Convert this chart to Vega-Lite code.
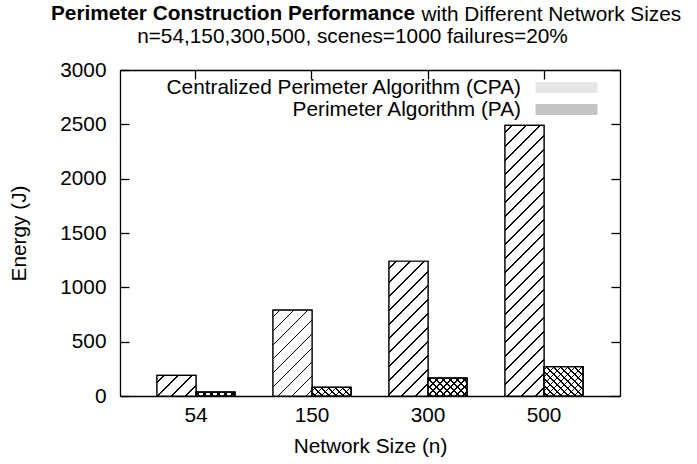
{
  "$schema": "https://vega.github.io/schema/vega-lite/v6.json",
  "width": 500,
  "height": 326,
  "autosize": "none",
  "padding": {"left": 120, "top": 70, "right": 77, "bottom": 68},
  "background": "white",
  "config": {
    "font": "Liberation Sans",
    "view": {"stroke": null},
    "axis": {
      "labelFont": "Liberation Sans",
      "titleFont": "Liberation Sans",
      "labelFontSize": 20.8,
      "titleFontSize": 20.8,
      "titleFontWeight": "normal",
      "labelColor": "black",
      "titleColor": "black",
      "domainColor": "black",
      "domainWidth": 1.3,
      "tickColor": "black",
      "tickWidth": 1.3,
      "grid": false,
      "titleLimit": 0
    },
    "legend": {
      "labelFont": "Liberation Sans",
      "labelFontSize": 20.8,
      "labelColor": "black",
      "labelLimit": 0
    }
  },
  "title": {
    "text": "Perimeter Construction Performance",
    "font": "Liberation Sans",
    "fontSize": 20.8,
    "fontWeight": "bold",
    "color": "black",
    "anchor": "start",
    "frame": "group",
    "baseline": "alphabetic",
    "dx": -69,
    "dy": 38,
    "offset": 0
  },
  "resolve": {"axis": {"x": "independent", "y": "independent"}},
  "data": {
    "values": [
      {"n": "54", "algo": "Centralized Perimeter Algorithm (CPA)", "energy": 190},
      {"n": "150", "algo": "Centralized Perimeter Algorithm (CPA)", "energy": 790},
      {"n": "300", "algo": "Centralized Perimeter Algorithm (CPA)", "energy": 1240},
      {"n": "500", "algo": "Centralized Perimeter Algorithm (CPA)", "energy": 2490},
      {"n": "54", "algo": "Perimeter Algorithm (PA)", "energy": 35},
      {"n": "150", "algo": "Perimeter Algorithm (PA)", "energy": 80},
      {"n": "300", "algo": "Perimeter Algorithm (PA)", "energy": 165},
      {"n": "500", "algo": "Perimeter Algorithm (PA)", "energy": 270}
    ]
  },
  "layer": [
    {
      "mark": {"type": "bar", "stroke": "black", "strokeWidth": 1.2},
      "encoding": {
        "x": {
          "field": "n",
          "type": "nominal",
          "sort": ["54", "150", "300", "500"],
          "scale": {"paddingInner": 0.328, "paddingOuter": 0.319},
          "axis": {
            "title": "Network Size (n)",
            "labelAngle": 0,
            "ticks": false,
            "labelPadding": 9,
            "titlePadding": 12
          }
        },
        "xOffset": {
          "field": "algo",
          "type": "nominal",
          "sort": ["Centralized Perimeter Algorithm (CPA)", "Perimeter Algorithm (PA)"],
          "scale": {"paddingInner": 0, "paddingOuter": 0}
        },
        "y": {
          "field": "energy",
          "type": "quantitative",
          "scale": {"domain": [0, 3000], "nice": false},
          "axis": {
            "title": "Energy (J)",
            "format": "d",
            "values": [0, 500, 1000, 1500, 2000, 2500, 3000],
            "ticks": true,
            "tickSize": -9,
            "labelPadding": 23,
            "titlePadding": 30
          }
        },
        "fill": {
          "field": "algo",
          "type": "nominal",
          "sort": ["Centralized Perimeter Algorithm (CPA)", "Perimeter Algorithm (PA)"],
          "scale": {"range": ["#e6e6e6", "#c4c4c4"]},
          "legend": {
            "title": null,
            "orient": "none",
            "legendX": 436,
            "legendY": 7,
            "padding": 0,
            "rowPadding": 0,
            "symbolType": "M-3.1,-0.55H3.1V0.55H-3.1Z",
            "symbolSize": 400,
            "symbolStrokeColor": "black",
            "symbolStrokeWidth": 1,
            "symbolOpacity": 1,
            "labelAlign": "right",
            "labelOffset": -56,
            "encode": {
              "symbols": {
                "update": {
                  "fill": [
                    {"test": "datum.value === 'Centralized Perimeter Algorithm (CPA)'", "value": {"gradient": "linear", "x1": 0, "y1": 0, "x2": 1.1415, "y2": 0.2025, "stops": [
                      {"offset": 0, "color": "white"},
                      {"offset": 0.0849, "color": "white"}, {"offset": 0.0849, "color": "black"}, {"offset": 0.1068, "color": "black"}, {"offset": 0.1068, "color": "white"},
                      {"offset": 0.2767, "color": "white"}, {"offset": 0.2767, "color": "black"}, {"offset": 0.2986, "color": "black"}, {"offset": 0.2986, "color": "white"},
                      {"offset": 0.4685, "color": "white"}, {"offset": 0.4685, "color": "black"}, {"offset": 0.4904, "color": "black"}, {"offset": 0.4904, "color": "white"},
                      {"offset": 0.6603, "color": "white"}, {"offset": 0.6603, "color": "black"}, {"offset": 0.6822, "color": "black"}, {"offset": 0.6822, "color": "white"},
                      {"offset": 0.8521, "color": "white"}, {"offset": 0.8521, "color": "black"}, {"offset": 0.8740, "color": "black"}, {"offset": 0.8740, "color": "white"},
                      {"offset": 1, "color": "white"}]}},
                    {"value": "#c4c4c4"}
                  ]
                }
              }
            }
          }
        }
      }
    },
    {
      "transform": [{"filter": "datum.n === '54' && datum.algo === 'Centralized Perimeter Algorithm (CPA)'"}],
      "mark": {"type": "bar", "stroke": "black", "strokeWidth": 1.2, "fill": {"gradient": "linear", "x1": 0, "y1": 0, "x2": 1.1946, "y2": 0.6325, "stops": [
        {"offset": 0, "color": "white"},
        {"offset": 0.1039, "color": "white"}, {"offset": 0.1039, "color": "black"}, {"offset": 0.1308, "color": "black"}, {"offset": 0.1308, "color": "white"},
        {"offset": 0.3386, "color": "white"}, {"offset": 0.3386, "color": "black"}, {"offset": 0.3655, "color": "black"}, {"offset": 0.3655, "color": "white"},
        {"offset": 0.5733, "color": "white"}, {"offset": 0.5733, "color": "black"}, {"offset": 0.6002, "color": "black"}, {"offset": 0.6002, "color": "white"},
        {"offset": 0.8080, "color": "white"}, {"offset": 0.8080, "color": "black"}, {"offset": 0.8349, "color": "black"}, {"offset": 0.8349, "color": "white"},
        {"offset": 1, "color": "white"}]}},
      "encoding": {
        "x": {"field": "n", "type": "nominal", "sort": ["54", "150", "300", "500"], "axis": null},
        "xOffset": {"field": "algo", "type": "nominal", "sort": ["Centralized Perimeter Algorithm (CPA)", "Perimeter Algorithm (PA)"]},
        "y": {"field": "energy", "type": "quantitative", "axis": null}
      }
    },
    {
      "transform": [{"filter": "datum.n === '150' && datum.algo === 'Centralized Perimeter Algorithm (CPA)'"}],
      "mark": {"type": "bar", "stroke": "black", "strokeWidth": 1.2, "fill": {"gradient": "linear", "x1": 0, "y1": 0, "x2": 0.5476, "y2": 1.2055, "stops": [
        {"offset": 0, "color": "white"},
        {"offset": 0.0497, "color": "white"}, {"offset": 0.0497, "color": "black"}, {"offset": 0.0625, "color": "black"}, {"offset": 0.0625, "color": "white"},
        {"offset": 0.1618, "color": "white"}, {"offset": 0.1618, "color": "black"}, {"offset": 0.1746, "color": "black"}, {"offset": 0.1746, "color": "white"},
        {"offset": 0.2739, "color": "white"}, {"offset": 0.2739, "color": "black"}, {"offset": 0.2867, "color": "black"}, {"offset": 0.2867, "color": "white"},
        {"offset": 0.3861, "color": "white"}, {"offset": 0.3861, "color": "black"}, {"offset": 0.3989, "color": "black"}, {"offset": 0.3989, "color": "white"},
        {"offset": 0.4982, "color": "white"}, {"offset": 0.4982, "color": "black"}, {"offset": 0.5110, "color": "black"}, {"offset": 0.5110, "color": "white"},
        {"offset": 0.6103, "color": "white"}, {"offset": 0.6103, "color": "black"}, {"offset": 0.6231, "color": "black"}, {"offset": 0.6231, "color": "white"},
        {"offset": 0.7225, "color": "white"}, {"offset": 0.7225, "color": "black"}, {"offset": 0.7353, "color": "black"}, {"offset": 0.7353, "color": "white"},
        {"offset": 0.8346, "color": "white"}, {"offset": 0.8346, "color": "black"}, {"offset": 0.8474, "color": "black"}, {"offset": 0.8474, "color": "white"},
        {"offset": 0.9467, "color": "white"}, {"offset": 0.9467, "color": "black"}, {"offset": 0.9596, "color": "black"}, {"offset": 0.9596, "color": "white"},
        {"offset": 1, "color": "white"}]}},
      "encoding": {
        "x": {"field": "n", "type": "nominal", "sort": ["54", "150", "300", "500"], "axis": null},
        "xOffset": {"field": "algo", "type": "nominal", "sort": ["Centralized Perimeter Algorithm (CPA)", "Perimeter Algorithm (PA)"]},
        "y": {"field": "energy", "type": "quantitative", "axis": null}
      }
    },
    {
      "transform": [{"filter": "datum.n === '300' && datum.algo === 'Centralized Perimeter Algorithm (CPA)'"}],
      "mark": {"type": "bar", "stroke": "black", "strokeWidth": 1.2, "fill": {"gradient": "linear", "x1": 0, "y1": 0, "x2": 0.3443, "y2": 1.1898, "stops": [
        {"offset": 0, "color": "white"},
        {"offset": 0.0357, "color": "white"}, {"offset": 0.0357, "color": "black"}, {"offset": 0.0449, "color": "black"}, {"offset": 0.0449, "color": "white"},
        {"offset": 0.1163, "color": "white"}, {"offset": 0.1163, "color": "black"}, {"offset": 0.1255, "color": "black"}, {"offset": 0.1255, "color": "white"},
        {"offset": 0.1968, "color": "white"}, {"offset": 0.1968, "color": "black"}, {"offset": 0.2060, "color": "black"}, {"offset": 0.2060, "color": "white"},
        {"offset": 0.2774, "color": "white"}, {"offset": 0.2774, "color": "black"}, {"offset": 0.2866, "color": "black"}, {"offset": 0.2866, "color": "white"},
        {"offset": 0.3580, "color": "white"}, {"offset": 0.3580, "color": "black"}, {"offset": 0.3672, "color": "black"}, {"offset": 0.3672, "color": "white"},
        {"offset": 0.4386, "color": "white"}, {"offset": 0.4386, "color": "black"}, {"offset": 0.4478, "color": "black"}, {"offset": 0.4478, "color": "white"},
        {"offset": 0.5191, "color": "white"}, {"offset": 0.5191, "color": "black"}, {"offset": 0.5283, "color": "black"}, {"offset": 0.5283, "color": "white"},
        {"offset": 0.5997, "color": "white"}, {"offset": 0.5997, "color": "black"}, {"offset": 0.6089, "color": "black"}, {"offset": 0.6089, "color": "white"},
        {"offset": 0.6803, "color": "white"}, {"offset": 0.6803, "color": "black"}, {"offset": 0.6895, "color": "black"}, {"offset": 0.6895, "color": "white"},
        {"offset": 0.7609, "color": "white"}, {"offset": 0.7609, "color": "black"}, {"offset": 0.7701, "color": "black"}, {"offset": 0.7701, "color": "white"},
        {"offset": 0.8414, "color": "white"}, {"offset": 0.8414, "color": "black"}, {"offset": 0.8506, "color": "black"}, {"offset": 0.8506, "color": "white"},
        {"offset": 0.9220, "color": "white"}, {"offset": 0.9220, "color": "black"}, {"offset": 0.9312, "color": "black"}, {"offset": 0.9312, "color": "white"},
        {"offset": 1, "color": "white"}]}},
      "encoding": {
        "x": {"field": "n", "type": "nominal", "sort": ["54", "150", "300", "500"], "axis": null},
        "xOffset": {"field": "algo", "type": "nominal", "sort": ["Centralized Perimeter Algorithm (CPA)", "Perimeter Algorithm (PA)"]},
        "y": {"field": "energy", "type": "quantitative", "axis": null}
      }
    },
    {
      "transform": [{"filter": "datum.n === '500' && datum.algo === 'Centralized Perimeter Algorithm (CPA)'"}],
      "mark": {"type": "bar", "stroke": "black", "strokeWidth": 1.2, "fill": {"gradient": "linear", "x1": 0, "y1": 0, "x2": 0.1615, "y2": 1.1208, "stops": [
        {"offset": 0, "color": "white"},
        {"offset": 0.0200, "color": "white"}, {"offset": 0.0200, "color": "black"}, {"offset": 0.0252, "color": "black"}, {"offset": 0.0252, "color": "white"},
        {"offset": 0.0652, "color": "white"}, {"offset": 0.0652, "color": "black"}, {"offset": 0.0704, "color": "black"}, {"offset": 0.0704, "color": "white"},
        {"offset": 0.1105, "color": "white"}, {"offset": 0.1105, "color": "black"}, {"offset": 0.1156, "color": "black"}, {"offset": 0.1156, "color": "white"},
        {"offset": 0.1557, "color": "white"}, {"offset": 0.1557, "color": "black"}, {"offset": 0.1609, "color": "black"}, {"offset": 0.1609, "color": "white"},
        {"offset": 0.2009, "color": "white"}, {"offset": 0.2009, "color": "black"}, {"offset": 0.2061, "color": "black"}, {"offset": 0.2061, "color": "white"},
        {"offset": 0.2461, "color": "white"}, {"offset": 0.2461, "color": "black"}, {"offset": 0.2513, "color": "black"}, {"offset": 0.2513, "color": "white"},
        {"offset": 0.2913, "color": "white"}, {"offset": 0.2913, "color": "black"}, {"offset": 0.2965, "color": "black"}, {"offset": 0.2965, "color": "white"},
        {"offset": 0.3366, "color": "white"}, {"offset": 0.3366, "color": "black"}, {"offset": 0.3417, "color": "black"}, {"offset": 0.3417, "color": "white"},
        {"offset": 0.3818, "color": "white"}, {"offset": 0.3818, "color": "black"}, {"offset": 0.3870, "color": "black"}, {"offset": 0.3870, "color": "white"},
        {"offset": 0.4270, "color": "white"}, {"offset": 0.4270, "color": "black"}, {"offset": 0.4322, "color": "black"}, {"offset": 0.4322, "color": "white"},
        {"offset": 0.4722, "color": "white"}, {"offset": 0.4722, "color": "black"}, {"offset": 0.4774, "color": "black"}, {"offset": 0.4774, "color": "white"},
        {"offset": 0.5174, "color": "white"}, {"offset": 0.5174, "color": "black"}, {"offset": 0.5226, "color": "black"}, {"offset": 0.5226, "color": "white"},
        {"offset": 0.5627, "color": "white"}, {"offset": 0.5627, "color": "black"}, {"offset": 0.5678, "color": "black"}, {"offset": 0.5678, "color": "white"},
        {"offset": 0.6079, "color": "white"}, {"offset": 0.6079, "color": "black"}, {"offset": 0.6130, "color": "black"}, {"offset": 0.6130, "color": "white"},
        {"offset": 0.6531, "color": "white"}, {"offset": 0.6531, "color": "black"}, {"offset": 0.6583, "color": "black"}, {"offset": 0.6583, "color": "white"},
        {"offset": 0.6983, "color": "white"}, {"offset": 0.6983, "color": "black"}, {"offset": 0.7035, "color": "black"}, {"offset": 0.7035, "color": "white"},
        {"offset": 0.7435, "color": "white"}, {"offset": 0.7435, "color": "black"}, {"offset": 0.7487, "color": "black"}, {"offset": 0.7487, "color": "white"},
        {"offset": 0.7888, "color": "white"}, {"offset": 0.7888, "color": "black"}, {"offset": 0.7939, "color": "black"}, {"offset": 0.7939, "color": "white"},
        {"offset": 0.8340, "color": "white"}, {"offset": 0.8340, "color": "black"}, {"offset": 0.8391, "color": "black"}, {"offset": 0.8391, "color": "white"},
        {"offset": 0.8792, "color": "white"}, {"offset": 0.8792, "color": "black"}, {"offset": 0.8844, "color": "black"}, {"offset": 0.8844, "color": "white"},
        {"offset": 0.9244, "color": "white"}, {"offset": 0.9244, "color": "black"}, {"offset": 0.9296, "color": "black"}, {"offset": 0.9296, "color": "white"},
        {"offset": 0.9696, "color": "white"}, {"offset": 0.9696, "color": "black"}, {"offset": 0.9748, "color": "black"}, {"offset": 0.9748, "color": "white"},
        {"offset": 1, "color": "white"}]}},
      "encoding": {
        "x": {"field": "n", "type": "nominal", "sort": ["54", "150", "300", "500"], "axis": null},
        "xOffset": {"field": "algo", "type": "nominal", "sort": ["Centralized Perimeter Algorithm (CPA)", "Perimeter Algorithm (PA)"]},
        "y": {"field": "energy", "type": "quantitative", "axis": null}
      }
    },
    {
      "transform": [{"filter": "datum.n === '54' && datum.algo === 'Perimeter Algorithm (PA)'"}],
      "mark": {"type": "bar", "stroke": "black", "strokeWidth": 1.2, "fill": {"gradient": "linear", "x1": 0, "y1": 0, "x2": 1.0871, "y2": 0.1059, "stops": [
        {"offset": 0, "color": "white"},
        {"offset": 0.0654, "color": "white"}, {"offset": 0.0654, "color": "black"}, {"offset": 0.0981, "color": "black"}, {"offset": 0.0981, "color": "white"},
        {"offset": 0.2290, "color": "white"}, {"offset": 0.2290, "color": "black"}, {"offset": 0.2617, "color": "black"}, {"offset": 0.2617, "color": "white"},
        {"offset": 0.3925, "color": "white"}, {"offset": 0.3925, "color": "black"}, {"offset": 0.4252, "color": "black"}, {"offset": 0.4252, "color": "white"},
        {"offset": 0.5561, "color": "white"}, {"offset": 0.5561, "color": "black"}, {"offset": 0.5888, "color": "black"}, {"offset": 0.5888, "color": "white"},
        {"offset": 0.7196, "color": "white"}, {"offset": 0.7196, "color": "black"}, {"offset": 0.7523, "color": "black"}, {"offset": 0.7523, "color": "white"},
        {"offset": 0.8832, "color": "white"}, {"offset": 0.8832, "color": "black"}, {"offset": 0.9159, "color": "black"}, {"offset": 0.9159, "color": "white"},
        {"offset": 1, "color": "white"}]}},
      "encoding": {
        "x": {"field": "n", "type": "nominal", "sort": ["54", "150", "300", "500"], "axis": null},
        "xOffset": {"field": "algo", "type": "nominal", "sort": ["Centralized Perimeter Algorithm (CPA)", "Perimeter Algorithm (PA)"]},
        "y": {"field": "energy", "type": "quantitative", "axis": null}
      }
    },
    {
      "transform": [{"filter": "datum.n === '54' && datum.algo === 'Perimeter Algorithm (PA)'"}],
      "mark": {"type": "bar", "stroke": "black", "strokeWidth": 1.2, "fill": {"gradient": "linear", "x1": 0, "y1": 1, "x2": 1.0871, "y2": 0.8941, "stops": [
        {"offset": 0, "color": "rgba(255,255,255,0)"},
        {"offset": 0.0654, "color": "rgba(255,255,255,0)"}, {"offset": 0.0654, "color": "black"}, {"offset": 0.0981, "color": "black"}, {"offset": 0.0981, "color": "rgba(255,255,255,0)"},
        {"offset": 0.2290, "color": "rgba(255,255,255,0)"}, {"offset": 0.2290, "color": "black"}, {"offset": 0.2617, "color": "black"}, {"offset": 0.2617, "color": "rgba(255,255,255,0)"},
        {"offset": 0.3925, "color": "rgba(255,255,255,0)"}, {"offset": 0.3925, "color": "black"}, {"offset": 0.4252, "color": "black"}, {"offset": 0.4252, "color": "rgba(255,255,255,0)"},
        {"offset": 0.5561, "color": "rgba(255,255,255,0)"}, {"offset": 0.5561, "color": "black"}, {"offset": 0.5888, "color": "black"}, {"offset": 0.5888, "color": "rgba(255,255,255,0)"},
        {"offset": 0.7196, "color": "rgba(255,255,255,0)"}, {"offset": 0.7196, "color": "black"}, {"offset": 0.7523, "color": "black"}, {"offset": 0.7523, "color": "rgba(255,255,255,0)"},
        {"offset": 0.8832, "color": "rgba(255,255,255,0)"}, {"offset": 0.8832, "color": "black"}, {"offset": 0.9159, "color": "black"}, {"offset": 0.9159, "color": "rgba(255,255,255,0)"},
        {"offset": 1, "color": "rgba(255,255,255,0)"}]}},
      "encoding": {
        "x": {"field": "n", "type": "nominal", "sort": ["54", "150", "300", "500"], "axis": null},
        "xOffset": {"field": "algo", "type": "nominal", "sort": ["Centralized Perimeter Algorithm (CPA)", "Perimeter Algorithm (PA)"]},
        "y": {"field": "energy", "type": "quantitative", "axis": null}
      }
    },
    {
      "transform": [{"filter": "datum.n === '150' && datum.algo === 'Perimeter Algorithm (PA)'"}],
      "mark": {"type": "bar", "stroke": "black", "strokeWidth": 1.2, "fill": {"gradient": "linear", "x1": 0, "y1": 0, "x2": 1.1650, "y2": 0.2596, "stops": [
        {"offset": 0, "color": "white"},
        {"offset": 0.0587, "color": "white"}, {"offset": 0.0587, "color": "black"}, {"offset": 0.0881, "color": "black"}, {"offset": 0.0881, "color": "white"},
        {"offset": 0.2055, "color": "white"}, {"offset": 0.2055, "color": "black"}, {"offset": 0.2348, "color": "black"}, {"offset": 0.2348, "color": "white"},
        {"offset": 0.3523, "color": "white"}, {"offset": 0.3523, "color": "black"}, {"offset": 0.3816, "color": "black"}, {"offset": 0.3816, "color": "white"},
        {"offset": 0.4991, "color": "white"}, {"offset": 0.4991, "color": "black"}, {"offset": 0.5284, "color": "black"}, {"offset": 0.5284, "color": "white"},
        {"offset": 0.6458, "color": "white"}, {"offset": 0.6458, "color": "black"}, {"offset": 0.6752, "color": "black"}, {"offset": 0.6752, "color": "white"},
        {"offset": 0.7926, "color": "white"}, {"offset": 0.7926, "color": "black"}, {"offset": 0.8220, "color": "black"}, {"offset": 0.8220, "color": "white"},
        {"offset": 0.9394, "color": "white"}, {"offset": 0.9394, "color": "black"}, {"offset": 0.9688, "color": "black"}, {"offset": 0.9688, "color": "white"},
        {"offset": 1, "color": "white"}]}},
      "encoding": {
        "x": {"field": "n", "type": "nominal", "sort": ["54", "150", "300", "500"], "axis": null},
        "xOffset": {"field": "algo", "type": "nominal", "sort": ["Centralized Perimeter Algorithm (CPA)", "Perimeter Algorithm (PA)"]},
        "y": {"field": "energy", "type": "quantitative", "axis": null}
      }
    },
    {
      "transform": [{"filter": "datum.n === '150' && datum.algo === 'Perimeter Algorithm (PA)'"}],
      "mark": {"type": "bar", "stroke": "black", "strokeWidth": 1.2, "fill": {"gradient": "linear", "x1": 0, "y1": 1, "x2": 1.1650, "y2": 0.7404, "stops": [
        {"offset": 0, "color": "rgba(255,255,255,0)"},
        {"offset": 0.0587, "color": "rgba(255,255,255,0)"}, {"offset": 0.0587, "color": "black"}, {"offset": 0.0881, "color": "black"}, {"offset": 0.0881, "color": "rgba(255,255,255,0)"},
        {"offset": 0.2055, "color": "rgba(255,255,255,0)"}, {"offset": 0.2055, "color": "black"}, {"offset": 0.2348, "color": "black"}, {"offset": 0.2348, "color": "rgba(255,255,255,0)"},
        {"offset": 0.3523, "color": "rgba(255,255,255,0)"}, {"offset": 0.3523, "color": "black"}, {"offset": 0.3816, "color": "black"}, {"offset": 0.3816, "color": "rgba(255,255,255,0)"},
        {"offset": 0.4991, "color": "rgba(255,255,255,0)"}, {"offset": 0.4991, "color": "black"}, {"offset": 0.5284, "color": "black"}, {"offset": 0.5284, "color": "rgba(255,255,255,0)"},
        {"offset": 0.6458, "color": "rgba(255,255,255,0)"}, {"offset": 0.6458, "color": "black"}, {"offset": 0.6752, "color": "black"}, {"offset": 0.6752, "color": "rgba(255,255,255,0)"},
        {"offset": 0.7926, "color": "rgba(255,255,255,0)"}, {"offset": 0.7926, "color": "black"}, {"offset": 0.8220, "color": "black"}, {"offset": 0.8220, "color": "rgba(255,255,255,0)"},
        {"offset": 0.9394, "color": "rgba(255,255,255,0)"}, {"offset": 0.9394, "color": "black"}, {"offset": 0.9688, "color": "black"}, {"offset": 0.9688, "color": "rgba(255,255,255,0)"},
        {"offset": 1, "color": "rgba(255,255,255,0)"}]}},
      "encoding": {
        "x": {"field": "n", "type": "nominal", "sort": ["54", "150", "300", "500"], "axis": null},
        "xOffset": {"field": "algo", "type": "nominal", "sort": ["Centralized Perimeter Algorithm (CPA)", "Perimeter Algorithm (PA)"]},
        "y": {"field": "energy", "type": "quantitative", "axis": null}
      }
    },
    {
      "transform": [{"filter": "datum.n === '300' && datum.algo === 'Perimeter Algorithm (PA)'"}],
      "mark": {"type": "bar", "stroke": "black", "strokeWidth": 1.2, "fill": {"gradient": "linear", "x1": 0, "y1": 0, "x2": 1.2050, "y2": 0.5540, "stops": [
        {"offset": 0, "color": "white"},
        {"offset": 0.0492, "color": "white"}, {"offset": 0.0492, "color": "black"}, {"offset": 0.0738, "color": "black"}, {"offset": 0.0738, "color": "white"},
        {"offset": 0.1721, "color": "white"}, {"offset": 0.1721, "color": "black"}, {"offset": 0.1967, "color": "black"}, {"offset": 0.1967, "color": "white"},
        {"offset": 0.2951, "color": "white"}, {"offset": 0.2951, "color": "black"}, {"offset": 0.3197, "color": "black"}, {"offset": 0.3197, "color": "white"},
        {"offset": 0.4181, "color": "white"}, {"offset": 0.4181, "color": "black"}, {"offset": 0.4426, "color": "black"}, {"offset": 0.4426, "color": "white"},
        {"offset": 0.5410, "color": "white"}, {"offset": 0.5410, "color": "black"}, {"offset": 0.5656, "color": "black"}, {"offset": 0.5656, "color": "white"},
        {"offset": 0.6640, "color": "white"}, {"offset": 0.6640, "color": "black"}, {"offset": 0.6886, "color": "black"}, {"offset": 0.6886, "color": "white"},
        {"offset": 0.7869, "color": "white"}, {"offset": 0.7869, "color": "black"}, {"offset": 0.8115, "color": "black"}, {"offset": 0.8115, "color": "white"},
        {"offset": 0.9099, "color": "white"}, {"offset": 0.9099, "color": "black"}, {"offset": 0.9345, "color": "black"}, {"offset": 0.9345, "color": "white"},
        {"offset": 1, "color": "white"}]}},
      "encoding": {
        "x": {"field": "n", "type": "nominal", "sort": ["54", "150", "300", "500"], "axis": null},
        "xOffset": {"field": "algo", "type": "nominal", "sort": ["Centralized Perimeter Algorithm (CPA)", "Perimeter Algorithm (PA)"]},
        "y": {"field": "energy", "type": "quantitative", "axis": null}
      }
    },
    {
      "transform": [{"filter": "datum.n === '300' && datum.algo === 'Perimeter Algorithm (PA)'"}],
      "mark": {"type": "bar", "stroke": "black", "strokeWidth": 1.2, "fill": {"gradient": "linear", "x1": 0, "y1": 1, "x2": 1.2050, "y2": 0.4460, "stops": [
        {"offset": 0, "color": "rgba(255,255,255,0)"},
        {"offset": 0.0492, "color": "rgba(255,255,255,0)"}, {"offset": 0.0492, "color": "black"}, {"offset": 0.0738, "color": "black"}, {"offset": 0.0738, "color": "rgba(255,255,255,0)"},
        {"offset": 0.1721, "color": "rgba(255,255,255,0)"}, {"offset": 0.1721, "color": "black"}, {"offset": 0.1967, "color": "black"}, {"offset": 0.1967, "color": "rgba(255,255,255,0)"},
        {"offset": 0.2951, "color": "rgba(255,255,255,0)"}, {"offset": 0.2951, "color": "black"}, {"offset": 0.3197, "color": "black"}, {"offset": 0.3197, "color": "rgba(255,255,255,0)"},
        {"offset": 0.4181, "color": "rgba(255,255,255,0)"}, {"offset": 0.4181, "color": "black"}, {"offset": 0.4426, "color": "black"}, {"offset": 0.4426, "color": "rgba(255,255,255,0)"},
        {"offset": 0.5410, "color": "rgba(255,255,255,0)"}, {"offset": 0.5410, "color": "black"}, {"offset": 0.5656, "color": "black"}, {"offset": 0.5656, "color": "rgba(255,255,255,0)"},
        {"offset": 0.6640, "color": "rgba(255,255,255,0)"}, {"offset": 0.6640, "color": "black"}, {"offset": 0.6886, "color": "black"}, {"offset": 0.6886, "color": "rgba(255,255,255,0)"},
        {"offset": 0.7869, "color": "rgba(255,255,255,0)"}, {"offset": 0.7869, "color": "black"}, {"offset": 0.8115, "color": "black"}, {"offset": 0.8115, "color": "rgba(255,255,255,0)"},
        {"offset": 0.9099, "color": "rgba(255,255,255,0)"}, {"offset": 0.9099, "color": "black"}, {"offset": 0.9345, "color": "black"}, {"offset": 0.9345, "color": "rgba(255,255,255,0)"},
        {"offset": 1, "color": "rgba(255,255,255,0)"}]}},
      "encoding": {
        "x": {"field": "n", "type": "nominal", "sort": ["54", "150", "300", "500"], "axis": null},
        "xOffset": {"field": "algo", "type": "nominal", "sort": ["Centralized Perimeter Algorithm (CPA)", "Perimeter Algorithm (PA)"]},
        "y": {"field": "energy", "type": "quantitative", "axis": null}
      }
    },
    {
      "transform": [{"filter": "datum.n === '500' && datum.algo === 'Perimeter Algorithm (PA)'"}],
      "mark": {"type": "bar", "stroke": "black", "strokeWidth": 1.2, "fill": {"gradient": "linear", "x1": 0, "y1": 0, "x2": 1.1190, "y2": 0.8418, "stops": [
        {"offset": 0, "color": "white"},
        {"offset": 0.0410, "color": "white"}, {"offset": 0.0410, "color": "black"}, {"offset": 0.0615, "color": "black"}, {"offset": 0.0615, "color": "white"},
        {"offset": 0.1434, "color": "white"}, {"offset": 0.1434, "color": "black"}, {"offset": 0.1639, "color": "black"}, {"offset": 0.1639, "color": "white"},
        {"offset": 0.2458, "color": "white"}, {"offset": 0.2458, "color": "black"}, {"offset": 0.2663, "color": "black"}, {"offset": 0.2663, "color": "white"},
        {"offset": 0.3483, "color": "white"}, {"offset": 0.3483, "color": "black"}, {"offset": 0.3687, "color": "black"}, {"offset": 0.3687, "color": "white"},
        {"offset": 0.4507, "color": "white"}, {"offset": 0.4507, "color": "black"}, {"offset": 0.4712, "color": "black"}, {"offset": 0.4712, "color": "white"},
        {"offset": 0.5531, "color": "white"}, {"offset": 0.5531, "color": "black"}, {"offset": 0.5736, "color": "black"}, {"offset": 0.5736, "color": "white"},
        {"offset": 0.6555, "color": "white"}, {"offset": 0.6555, "color": "black"}, {"offset": 0.6760, "color": "black"}, {"offset": 0.6760, "color": "white"},
        {"offset": 0.7580, "color": "white"}, {"offset": 0.7580, "color": "black"}, {"offset": 0.7785, "color": "black"}, {"offset": 0.7785, "color": "white"},
        {"offset": 0.8604, "color": "white"}, {"offset": 0.8604, "color": "black"}, {"offset": 0.8809, "color": "black"}, {"offset": 0.8809, "color": "white"},
        {"offset": 0.9628, "color": "white"}, {"offset": 0.9628, "color": "black"}, {"offset": 0.9833, "color": "black"}, {"offset": 0.9833, "color": "white"},
        {"offset": 1, "color": "white"}]}},
      "encoding": {
        "x": {"field": "n", "type": "nominal", "sort": ["54", "150", "300", "500"], "axis": null},
        "xOffset": {"field": "algo", "type": "nominal", "sort": ["Centralized Perimeter Algorithm (CPA)", "Perimeter Algorithm (PA)"]},
        "y": {"field": "energy", "type": "quantitative", "axis": null}
      }
    },
    {
      "transform": [{"filter": "datum.n === '500' && datum.algo === 'Perimeter Algorithm (PA)'"}],
      "mark": {"type": "bar", "stroke": "black", "strokeWidth": 1.2, "fill": {"gradient": "linear", "x1": 0, "y1": 1, "x2": 1.1190, "y2": 0.1582, "stops": [
        {"offset": 0, "color": "rgba(255,255,255,0)"},
        {"offset": 0.0410, "color": "rgba(255,255,255,0)"}, {"offset": 0.0410, "color": "black"}, {"offset": 0.0615, "color": "black"}, {"offset": 0.0615, "color": "rgba(255,255,255,0)"},
        {"offset": 0.1434, "color": "rgba(255,255,255,0)"}, {"offset": 0.1434, "color": "black"}, {"offset": 0.1639, "color": "black"}, {"offset": 0.1639, "color": "rgba(255,255,255,0)"},
        {"offset": 0.2458, "color": "rgba(255,255,255,0)"}, {"offset": 0.2458, "color": "black"}, {"offset": 0.2663, "color": "black"}, {"offset": 0.2663, "color": "rgba(255,255,255,0)"},
        {"offset": 0.3483, "color": "rgba(255,255,255,0)"}, {"offset": 0.3483, "color": "black"}, {"offset": 0.3687, "color": "black"}, {"offset": 0.3687, "color": "rgba(255,255,255,0)"},
        {"offset": 0.4507, "color": "rgba(255,255,255,0)"}, {"offset": 0.4507, "color": "black"}, {"offset": 0.4712, "color": "black"}, {"offset": 0.4712, "color": "rgba(255,255,255,0)"},
        {"offset": 0.5531, "color": "rgba(255,255,255,0)"}, {"offset": 0.5531, "color": "black"}, {"offset": 0.5736, "color": "black"}, {"offset": 0.5736, "color": "rgba(255,255,255,0)"},
        {"offset": 0.6555, "color": "rgba(255,255,255,0)"}, {"offset": 0.6555, "color": "black"}, {"offset": 0.6760, "color": "black"}, {"offset": 0.6760, "color": "rgba(255,255,255,0)"},
        {"offset": 0.7580, "color": "rgba(255,255,255,0)"}, {"offset": 0.7580, "color": "black"}, {"offset": 0.7785, "color": "black"}, {"offset": 0.7785, "color": "rgba(255,255,255,0)"},
        {"offset": 0.8604, "color": "rgba(255,255,255,0)"}, {"offset": 0.8604, "color": "black"}, {"offset": 0.8809, "color": "black"}, {"offset": 0.8809, "color": "rgba(255,255,255,0)"},
        {"offset": 0.9628, "color": "rgba(255,255,255,0)"}, {"offset": 0.9628, "color": "black"}, {"offset": 0.9833, "color": "black"}, {"offset": 0.9833, "color": "rgba(255,255,255,0)"},
        {"offset": 1, "color": "rgba(255,255,255,0)"}]}},
      "encoding": {
        "x": {"field": "n", "type": "nominal", "sort": ["54", "150", "300", "500"], "axis": null},
        "xOffset": {"field": "algo", "type": "nominal", "sort": ["Centralized Perimeter Algorithm (CPA)", "Perimeter Algorithm (PA)"]},
        "y": {"field": "energy", "type": "quantitative", "axis": null}
      }
    },
    {
      "mark": {"type": "point", "opacity": 0},
      "encoding": {
        "x": {
          "field": "n",
          "type": "nominal",
          "sort": ["54", "150", "300", "500"],
          "axis": {
            "orient": "top",
            "labels": false,
            "ticks": true,
            "tickSize": -9,
            "title": "n=54,150,300,500, scenes=1000 failures=20%",
            "titleX": 232,
            "titleY": -28,
            "titleAlign": "center",
            "titleBaseline": "alphabetic"
          }
        },
        "y": {
          "field": "energy",
          "type": "quantitative",
          "axis": {
            "orient": "right",
            "labels": false,
            "values": [0, 500, 1000, 1500, 2000, 2500, 3000],
            "tickSize": -9,
            "title": "with Different Network Sizes",
            "titleAngle": 0,
            "titleX": -199,
            "titleY": -50,
            "titleAlign": "left",
            "titleBaseline": "alphabetic"
          }
        }
      }
    }
  ]
}
